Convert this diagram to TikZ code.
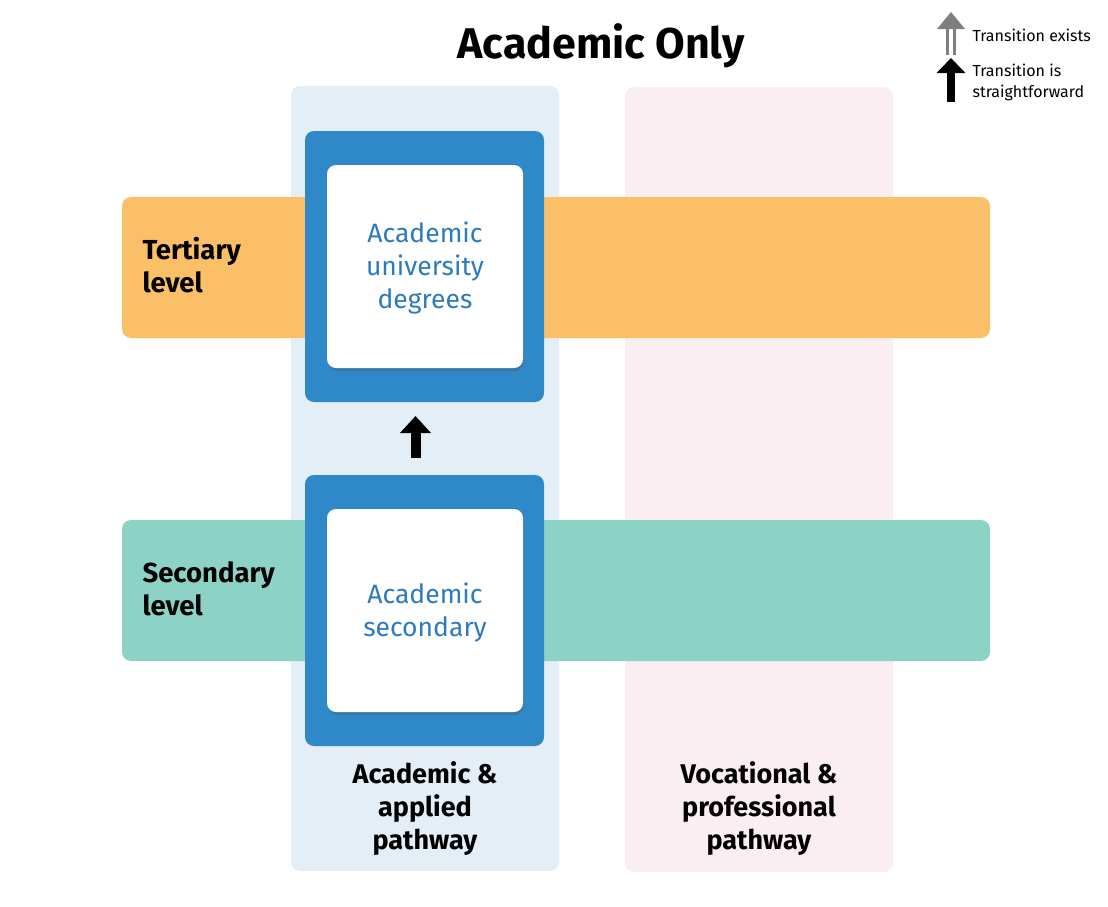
\documentclass[tikz,border=0pt]{standalone}
\usepackage{fontspec}
\setmainfont{Fira Sans}
\usetikzlibrary{shadows,arrows.meta}
\definecolor{colblue}{HTML}{E3EEF7}
\definecolor{colpink}{HTML}{FBEEF2}
\definecolor{bandorange}{HTML}{FBBF68}
\definecolor{bandteal}{HTML}{8DD3C5}
\definecolor{boxblue}{HTML}{2F88C8}
\definecolor{txtblue}{HTML}{2C7BBF}
\definecolor{leggrey}{HTML}{7F7F7F}
\tikzset{
  blk/.style={inner sep=0pt, outer sep=0pt, anchor=north west, rounded corners=9pt},
  column/.style={blk, minimum width=268pt, minimum height=785pt},
  band/.style={blk, minimum width=868pt, minimum height=141pt},
  outerbox/.style={blk, fill=boxblue, minimum width=239pt, minimum height=271pt},
  innerbox/.style={blk, fill=white, minimum width=196pt, minimum height=203pt,
     drop shadow={shadow xshift=1pt, shadow yshift=-3pt, opacity=0.25, fill=black!70}},
  innertext/.style={text=txtblue, font=\fontsize{26.5}{33}\selectfont, align=center},
  bandlabel/.style={font=\fontsize{27.5}{33}\selectfont\bfseries, align=left, anchor=west},
  pathlabel/.style={font=\fontsize{27}{33}\selectfont\bfseries, align=center},
  legtext/.style={font=\fontsize{16}{21}\selectfont, align=left, anchor=west},
}
\begin{document}
\begin{tikzpicture}[x=1pt,y=-1pt]
\useasboundingbox (0,0) rectangle (1108,906);
\fill[white] (0,0) rectangle (1108,906);

\node[column, fill=colblue] (acol) at (291,86) {};
\node[column, fill=colpink] (vcol) at (625,87) {};

\node[band, fill=bandorange] (tert) at (122,197) {};
\node[band, fill=bandteal] (sec) at (122,520) {};

\node[outerbox] (topout) at (305,131) {};
\node[outerbox] (botout) at (305,475) {};
\node[innerbox] (topin) at (327,165) {};
\node[innerbox] (botin) at (327,509) {};

\node[innertext] (toptxt) at (425,268) {Academic\\university\\degrees};
\node[innertext] (bottxt) at (425,612) {Academic\\secondary};

\node[bandlabel] (tertlbl) at (139,265) {Tertiary\\level};
\node[bandlabel] (seclbl) at (139,589) {Secondary\\level};

\node[pathlabel] (aplbl) at (425,809) {Academic \&\\applied\\pathway};
\node[pathlabel] (vplbl) at (759,809) {Vocational \&\\professional\\pathway};

\node[font=\fontsize{43}{48}\selectfont\bfseries] (title) at (601,46) {Academic Only};

\draw[line width=10pt, -{Triangle[width=30pt,length=17pt]}]
  ([xshift=-9pt,yshift=17pt]botout.north) -- ([xshift=-9pt,yshift=-14pt]topout.south);

% legend
\coordinate (g0) at (951,55);
\coordinate (g1) at (951,12);
\coordinate (b0) at (951,102);
\coordinate (b1) at (951,58);
\draw[leggrey, line width=2.6pt] ([xshift=-3.5pt]g0) -- ([xshift=-3.5pt,yshift=-15pt]g1);
\draw[leggrey, line width=2.6pt] ([xshift=3.5pt]g0) -- ([xshift=3.5pt,yshift=-15pt]g1);
\fill[leggrey] (g1) -- ([xshift=-14pt,yshift=-17pt]g1) -- ([xshift=14pt,yshift=-17pt]g1) -- cycle;
\draw[line width=8pt, -{Triangle[width=28pt,length=15pt]}] (b0) -- (b1);

\node[legtext] (legA) at (969,35) {Transition exists};
\node[legtext] (legB) at (969,82) {Transition is\\straightforward};
\end{tikzpicture}
\end{document}
